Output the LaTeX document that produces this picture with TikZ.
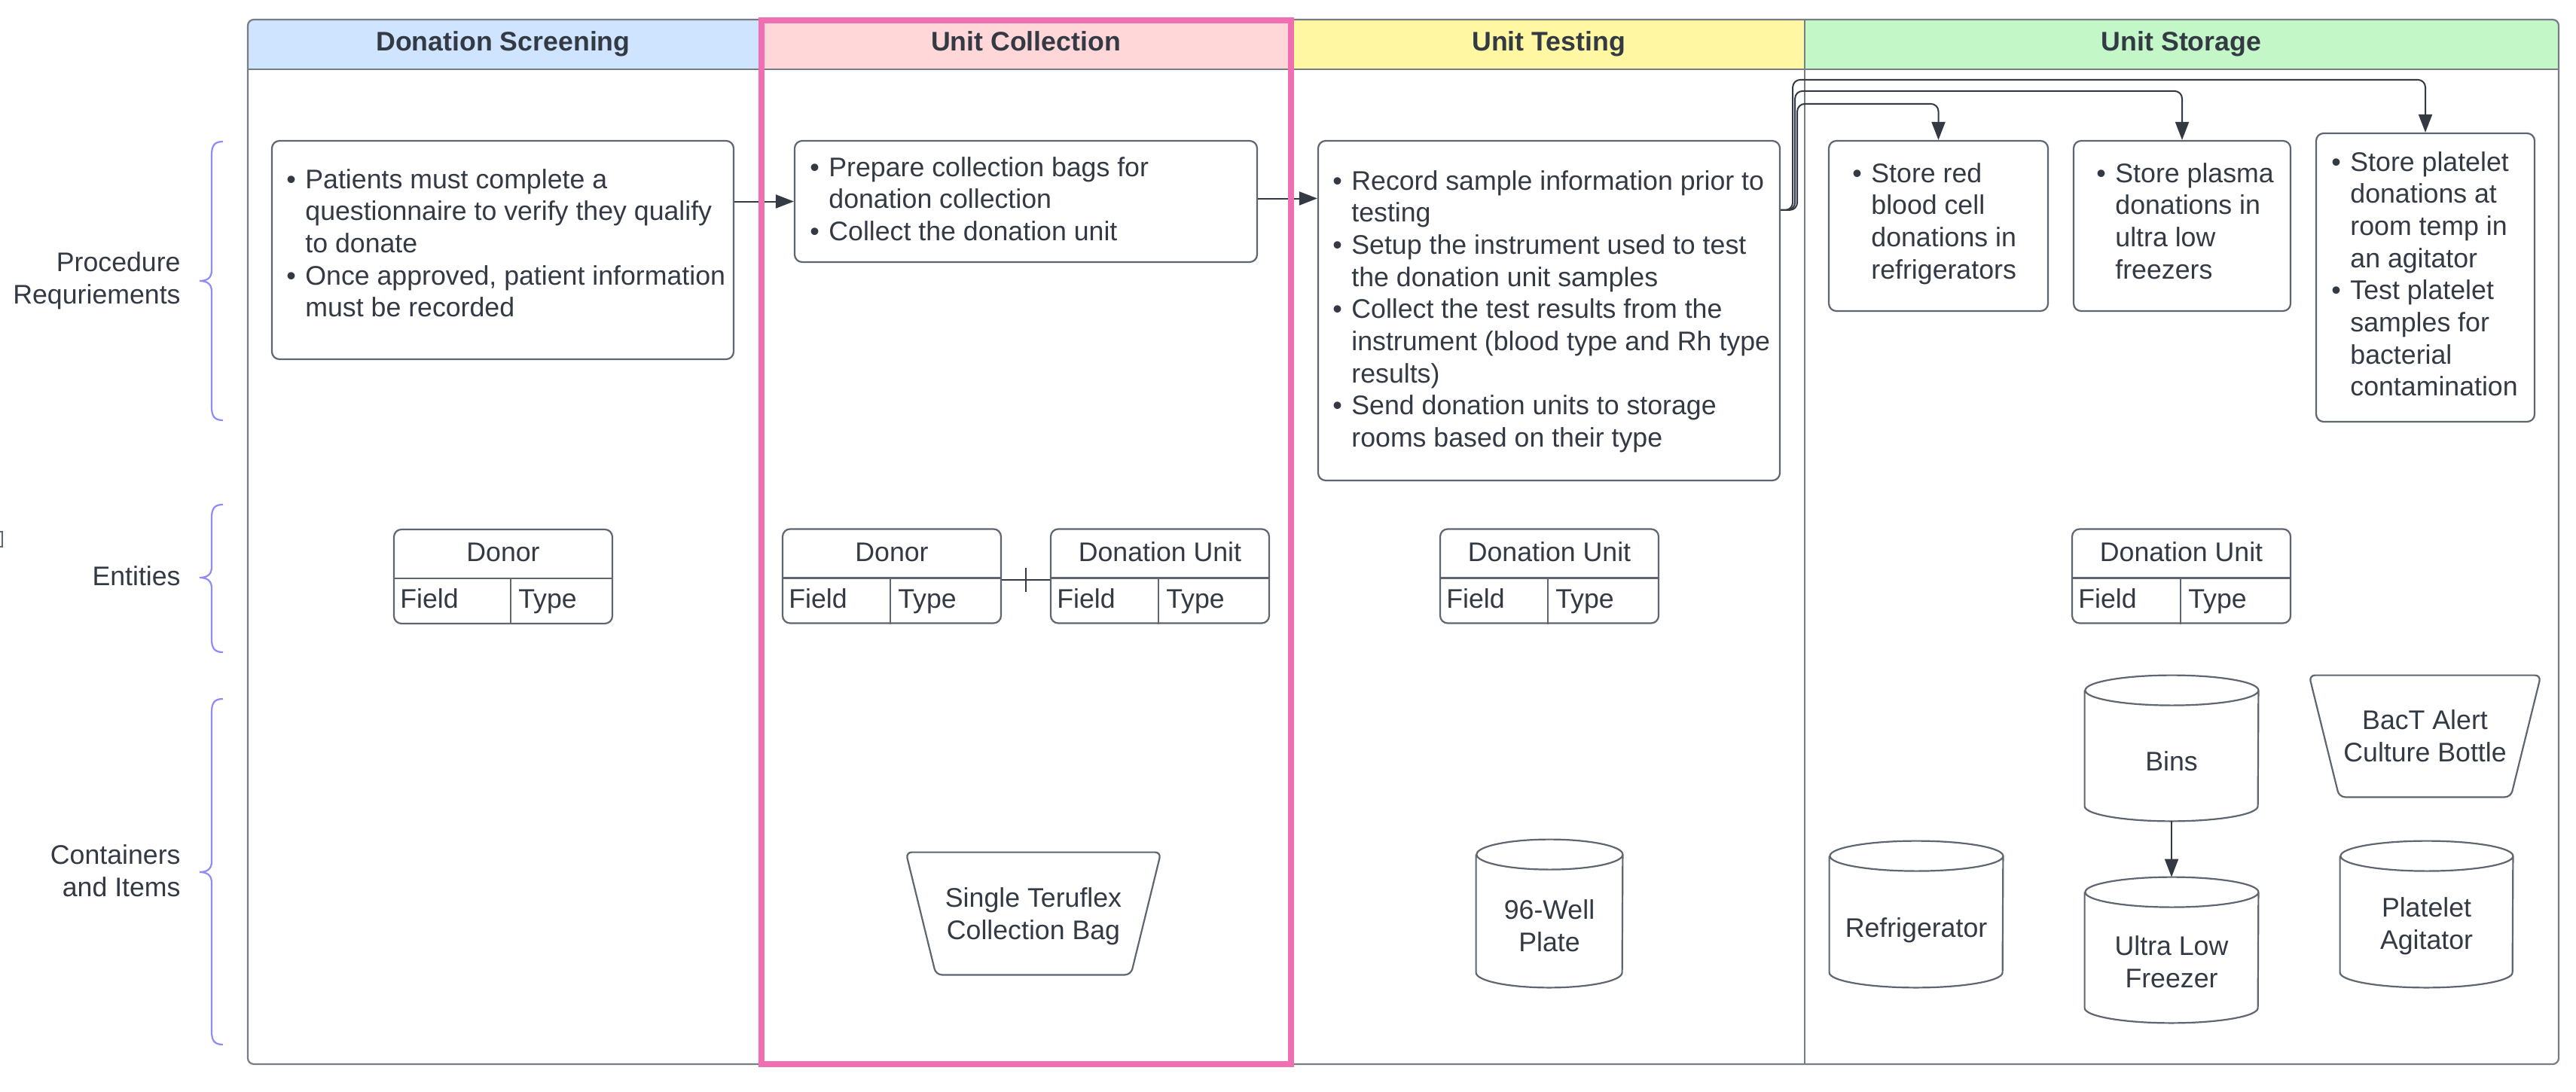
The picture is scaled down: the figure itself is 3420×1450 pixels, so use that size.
\documentclass[tikz,border=0pt]{standalone}
\usepackage{fontspec}
\setmainfont{Liberation Sans}
\usetikzlibrary{arrows.meta}
\definecolor{ink}{HTML}{333A44}
\definecolor{edge}{HTML}{5F6670}
\definecolor{hblue}{HTML}{CFE4FF}
\definecolor{hpink}{HTML}{FFD7D9}
\definecolor{hyellow}{HTML}{FFF7A1}
\definecolor{hgreen}{HTML}{C3F7C8}
\definecolor{pinkline}{HTML}{F06EB2}
\definecolor{bracec}{HTML}{8E8CF8}
\newcommand\bu{\makebox[12.5pt][l]{\textbullet}}
\newcommand\cyl[2]{\draw[shapeline] ([yshift=-10pt]#1.north west) -- ([yshift=10pt]#1.south west) arc[start angle=180,end angle=360,x radius=#2,y radius=10pt] -- ([yshift=-10pt]#1.north east) arc[start angle=0,end angle=360,x radius=#2,y radius=10pt];}
\newcommand\trap[2]{\draw[shapeline, rounded corners=4pt] (#1.north west) -- (#1.north east) -- ([xshift=-#2]#1.south east) -- ([xshift=#2]#1.south west) -- cycle;}
\newcommand\entity[4]{%
  \node[tbl] (#1) at (#2) {};
  \draw[shapeline] ([yshift=-33pt]#1.north west) -- ([yshift=-33pt]#1.north east);
  \draw[shapeline] ([xshift=#4,yshift=-33pt]#1.north west) -- ([xshift=#4]#1.south west);
  \node[txt,anchor=base] (#1-title) at ([yshift=-22pt]#1.north) {#3};
  \node[txt,anchor=base west] (#1-field) at ([xshift=4.5pt,yshift=-53pt]#1.north west) {Field};
  \node[txt,anchor=base west] (#1-type) at ([xshift=#4+5pt,yshift=-53pt]#1.north west) {Type};
}
\newcommand\brc[3]{\draw[bracec, line width=1.1pt] (296,#1) .. controls (284,#1) and (281,#1+6) .. (281,#1+18) -- (281,#2-14) .. controls (281,#2-5) and (276,#2) .. (265,#2) .. controls (276,#2) and (281,#2+5) .. (281,#2+14) -- (281,#3-18) .. controls (281,#3-6) and (284,#3) .. (296,#3);}
\begin{document}
\begin{tikzpicture}[x=0.5pt,y=-0.5pt,
  txt/.style={font=\fontsize{17.85}{21.35}\selectfont, text=ink, inner sep=0pt},
  hdr/.style={font=\fontsize{17.85}{21.35}\selectfont\bfseries, text=ink, inner sep=0pt},
  proc/.style={draw=edge, line width=1.1pt, rounded corners=5pt, inner sep=0pt},
  tbl/.style={draw=edge, line width=1.1pt, rounded corners=5pt, inner sep=0pt, minimum width=145pt, minimum height=62.5pt},
  shapeline/.style={draw=edge, line width=1.1pt},
  holder/.style={inner sep=0pt, draw=none},
  frameline/.style={draw=edge!85!white, line width=1.1pt},
  conn/.style={draw=ink, line width=1pt, -{Triangle[length=12pt,width=9pt]}},
  plain/.style={draw=ink, line width=1pt}]
\useasboundingbox (0,0) rectangle (3420,1450);
\fill[white] (0,0) rectangle (3420,1450);

% lane headers
\begin{scope}
\clip[rounded corners=4pt] (329,26) rectangle (3397,1413);
\fill[hblue] (329,26) rectangle (1011,92);
\fill[hpink] (1011,26) rectangle (1714,92);
\fill[hyellow] (1714,26) rectangle (2396,92);
\fill[hgreen] (2396,26) rectangle (3397,92);
\end{scope}
\draw[frameline, rounded corners=4pt] (329,26) rectangle (3397,1413);
\draw[frameline] (329,92) -- (3397,92);
\draw[frameline] (1009,26) -- (1009,1413);
\draw[frameline] (1714,26) -- (1714,1413);
\draw[frameline] (2396,26) -- (2396,1413);

\node[hdr,anchor=base] (h1) at (668,68) {Donation Screening};
\node[hdr,anchor=base] (h2) at (1362,68) {Unit Collection};
\node[hdr,anchor=base] (h3) at (2056,68) {Unit Testing};
\node[hdr,anchor=base] (h4) at (2896,68) {Unit Storage};

% row labels and braces
\node[txt, align=right, anchor=east] (lab1) at (240,373) {Procedure\\Requriements};
\node[txt, anchor=east] (lab2) at (240,765) {Entities};
\node[txt, align=right, anchor=east] (lab3) at (240,1156) {Containers\\and Items};
\brc{188}{373}{558}
\brc{670}{767}{866}
\brc{928}{1158}{1387}
\draw[edge, line width=0.6pt] (-3,706) rectangle (3,726);

% procedure boxes
\node[proc, minimum width=306.5pt, minimum height=145pt] (A) at (667.5,332) {};
\node[proc, minimum width=307pt, minimum height=80.5pt] (B) at (1362,267.5) {};
\node[proc, minimum width=306.5pt, minimum height=225.5pt] (C) at (2056.5,412.5) {};
\node[proc, minimum width=145.5pt, minimum height=113pt] (D) at (2573.5,300) {};
\node[proc, minimum width=144pt, minimum height=113pt] (E) at (2897,300) {};
\node[proc, minimum width=145pt, minimum height=191.5pt] (F) at (3220,368.5) {};

\node[txt, anchor=base west] (A-t) at (380,250) {\begin{tabular}[t]{@{}l@{}l@{}}
\bu & Patients must complete a\\
 & questionnaire to verify they qualify\\
 & to donate\\
\bu & Once approved, patient information\\
 & must be recorded
\end{tabular}};
\node[txt, anchor=base west] (B-t) at (1075,234) {\begin{tabular}[t]{@{}l@{}l@{}}
\bu & Prepare collection bags for\\
 & donation collection\\
\bu & Collect the donation unit
\end{tabular}};
\node[txt, anchor=base west] (C-t) at (1769,252) {\begin{tabular}[t]{@{}l@{}l@{}}
\bu & Record sample information prior to\\
 & testing\\
\bu & Setup the instrument used to test\\
 & the donation unit samples\\
\bu & Collect the test results from the\\
 & instrument (blood type and Rh type\\
 & results)\\
\bu & Send donation units to storage\\
 & rooms based on their type
\end{tabular}};
\node[txt, anchor=base west] (D-t) at (2459,242) {\begin{tabular}[t]{@{}l@{}l@{}}
\bu & Store red\\
 & blood cell\\
 & donations in\\
 & refrigerators
\end{tabular}};
\node[txt, anchor=base west] (E-t) at (2783,242) {\begin{tabular}[t]{@{}l@{}l@{}}
\bu & Store plasma\\
 & donations in\\
 & ultra low\\
 & freezers
\end{tabular}};
\node[txt, anchor=base west] (F-t) at (3095,227) {\begin{tabular}[t]{@{}l@{}l@{}}
\bu & Store platelet\\
 & donations at\\
 & room temp in\\
 & an agitator\\
\bu & Test platelet\\
 & samples for\\
 & bacterial\\
 & contamination
\end{tabular}};

% process connectors
\draw[conn] (A.east |- B.west) -- (B.west);
\draw[conn] ([yshift=2pt]B.east) -- ([yshift=2pt]B.east -| C.west);
\coordinate (cout) at ([yshift=-46.5pt]C.north east);
\draw[conn, rounded corners=5pt] (cout) -- ++(11pt,0) -- ++(0,70.5pt) -| (D.north);
\draw[conn, rounded corners=5pt] (cout) -- ++(9.5pt,0) -- ++(0,79pt) -| (E.north);
\draw[conn, rounded corners=5pt] (cout) -- ++(8pt,0) -- ++(0,86.5pt) -| (F.north);

% entities
\entity{donor1}{668,765.5}{Donor}{78pt}
\entity{donor2}{1184,765}{Donor}{72pt}
\entity{du2}{1540,765}{Donation Unit}{72pt}
\entity{du3}{2057,765}{Donation Unit}{72pt}
\entity{du4}{2896,765}{Donation Unit}{72.5pt}
\draw[plain] ([yshift=-2.5pt]donor2.east) -- coordinate[pos=0.5] (dm) ([yshift=-2.5pt]du2.west);
\draw[plain] ([yshift=8pt]dm) -- ([yshift=-8pt]dm);

% containers
\node[holder, minimum width=169pt, minimum height=81pt] (bag) at (1372,1213) {};
\trap{bag}{20pt}
\node[txt, align=center] (bag-t) at ([yshift=-2pt]bag.center) {Single Teruflex\\Collection Bag};
\node[holder, minimum width=153.5pt, minimum height=80.5pt] (bact) at (3219.5,977.5) {};
\trap{bact}{20pt}
\node[txt, align=center] (bact-t) at (bact.center) {BacT Alert\\Culture Bottle};

\node[holder, minimum width=97pt, minimum height=98pt] (well) at (2057,1213) {};
\cyl{well}{48.5pt}
\node[txt, align=center] (well-t) at ([yshift=-8pt]well.center) {96-Well\\Plate};

\node[holder, minimum width=115pt, minimum height=97pt] (fridge) at (2544,1214) {};
\cyl{fridge}{57.5pt}
\node[txt, align=center] (fridge-t) at ([yshift=-10.5pt]fridge.center) {Refrigerator};

\node[holder, minimum width=115pt, minimum height=96.5pt] (bins) at (2883,993.5) {};
\cyl{bins}{57.5pt}
\node[txt, align=center] (bins-t) at ([yshift=-8.5pt]bins.center) {Bins};

\node[holder, minimum width=115pt, minimum height=96.5pt] (ulf) at (2883,1261.5) {};
\cyl{ulf}{57.5pt}
\node[txt, align=center] (ulf-t) at ([yshift=-8pt]ulf.center) {Ultra Low\\Freezer};

\node[holder, minimum width=114.5pt, minimum height=97pt] (plat) at (3221.5,1214) {};
\cyl{plat}{57.25pt}
\node[txt, align=center] (plat-t) at ([yshift=-8pt]plat.center) {Platelet\\Agitator};

\draw[conn] (bins.south) -- (ulf.north);

% highlight
\draw[pinkline, line width=4pt] (1011,27) rectangle (1714,1413);
\end{tikzpicture}
\end{document}
